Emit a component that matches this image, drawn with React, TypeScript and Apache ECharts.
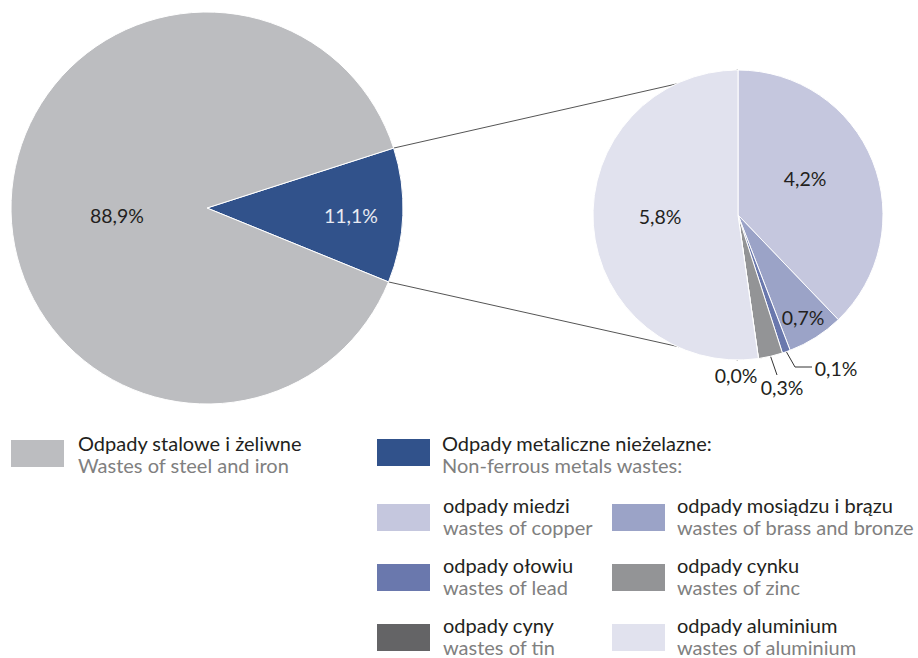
import React, { useEffect, useRef } from 'react';
import * as echarts from 'echarts';

// ---- data ----
const mainCategories = ['Odpady metaliczne nieżelazne', 'Odpady stalowe i żeliwne'];
const mainValues = [11.1, 88.9];
const mainLabels = ['11,1%', '88,9%'];

const subCategories = ['odpady miedzi', 'odpady mosiądzu i brązu', 'odpady ołowiu', 'odpady cynku', 'odpady cyny', 'odpady aluminium'];
const subCategoriesEn = ['wastes of copper', 'wastes of brass and bronze', 'wastes of lead', 'wastes of zinc', 'wastes of tin', 'wastes of aluminium'];
const subValues = [4.2, 0.7, 0.1, 0.3, 0.0, 5.8];
const subLabels = ['4,2%', '0,7%', '0,1%', '0,3%', '0,0%', '5,8%'];

const mainLegendPl = ['Odpady stalowe i żeliwne', 'Odpady metaliczne nieżelazne:'];
const mainLegendEn = ['Wastes of steel and iron', 'Non-ferrous metals wastes:'];

// ---- styles / layout ----
const FONT = 'Lato, "Open Sans", sans-serif';
const LEGEND_FS = 20;
const LABEL_FS = 19.5;
const mainColors = ['#31528b', '#bcbdc0'];
const subColors = ['#c5c7de', '#9ba3c7', '#6a78ad', '#939496', '#646466', '#e1e2ee'];
const MAIN_CENTER = [207, 208];
const MAIN_R = 196;
const MAIN_START = 17.8;
const SUB_CENTER = [738, 215];
const SUB_R = 145;
const mainLabelPos = [[351, 215], [117, 215]];
const subLabelPos = [[805, 178], [803, 317], [836, 368], [782, 387], [736, 375], [660, 216]];
const subLeaderEnds: (number[][] | null)[] = [null, null, [[795, 367], [812, 367]], [[777, 375]], null, null];

export default function App() {
  const ref = useRef<HTMLDivElement>(null);
  useEffect(() => {
    if (!ref.current) return;
    const chart = echarts.init(ref.current, null, { renderer: 'svg' });

    // slice geometry of the main pie for connector lines
    const navyFrac = mainValues[0] / mainValues.reduce((a, b) => a + b, 0);
    const a1 = (MAIN_START * Math.PI) / 180;
    const a2 = ((MAIN_START - navyFrac * 360) * Math.PI) / 180;
    const p1 = [MAIN_CENTER[0] + MAIN_R * Math.cos(a1), MAIN_CENTER[1] - MAIN_R * Math.sin(a1)];
    const p2 = [MAIN_CENTER[0] + MAIN_R * Math.cos(a2), MAIN_CENTER[1] - MAIN_R * Math.sin(a2)];

    // mid angles of sub pie slices (clockwise from top)
    const subTotal = subValues.reduce((a, b) => a + b, 0);
    const subMid: number[] = [];
    let acc = 0;
    subValues.forEach((v) => {
      subMid.push(((acc + v / 2) / subTotal) * 2 * Math.PI);
      acc += v;
    });

    const txt = (x: number, y: number, text: string, fill: string) => ({
      type: 'text',
      x,
      y,
      style: { text, fill, font: `${LEGEND_FS}px ${FONT}`, verticalAlign: 'middle', lineHeight: 20 },
    });

    const legendGraphics: any[] = [];
    const mainSq = [[11, 440], [377, 439]];
    const mainTx = [78, 442];
    const mainLegendColors = [mainColors[1], mainColors[0]];
    for (let i = 0; i < 2; i++) {
      legendGraphics.push({ type: 'rect', shape: { x: mainSq[i][0], y: mainSq[i][1], width: 53, height: 27 }, style: { fill: mainLegendColors[i] } });
      legendGraphics.push(txt(mainTx[i], 443, mainLegendPl[i], '#231f20'));
      legendGraphics.push(txt(mainTx[i], 465, mainLegendEn[i], '#808080'));
    }
    const colSq = [377, 612];
    const colTx = [443, 677];
    const rowTop = [504, 564, 624];
    subCategories.forEach((name, i) => {
      const c = i % 2;
      const r = Math.floor(i / 2);
      legendGraphics.push({ type: 'rect', shape: { x: colSq[c], y: rowTop[r], width: 53, height: 27 }, style: { fill: subColors[i] } });
      legendGraphics.push(txt(colTx[c], rowTop[r] + 1, name, '#231f20'));
      legendGraphics.push(txt(colTx[c], rowTop[r] + 23, subCategoriesEn[i], '#808080'));
    });

    const option: any = {
      animation: false,
      backgroundColor: '#ffffff',
      graphic: {
        elements: [
          { type: 'line', z: 0, shape: { x1: p1[0], y1: p1[1], x2: SUB_CENTER[0], y2: SUB_CENTER[1] - SUB_R }, style: { stroke: '#555555', lineWidth: 1 } },
          { type: 'line', z: 0, shape: { x1: p2[0], y1: p2[1], x2: SUB_CENTER[0], y2: SUB_CENTER[1] + SUB_R }, style: { stroke: '#555555', lineWidth: 1 } },
          ...legendGraphics,
        ],
      },
      series: [
        {
          type: 'pie',
          z: 2,
          center: MAIN_CENTER,
          radius: MAIN_R,
          startAngle: MAIN_START,
          clockwise: true,
          avoidLabelOverlap: false,
          itemStyle: { borderColor: '#ffffff', borderWidth: 1 },
          emphasis: { disabled: true },
          label: { show: true, position: 'inside', fontFamily: FONT, fontSize: LABEL_FS },
          labelLine: { show: false },
          labelLayout: (p: any) => ({ x: mainLabelPos[p.dataIndex][0], y: mainLabelPos[p.dataIndex][1], align: 'center', verticalAlign: 'middle' }),
          data: mainCategories.map((n, i) => ({
            name: n,
            value: mainValues[i],
            itemStyle: { color: mainColors[i] },
            label: { formatter: mainLabels[i], color: i === 0 ? '#e8eaf2' : '#231f20' },
          })),
        },
        {
          type: 'pie',
          z: 2,
          center: SUB_CENTER,
          radius: SUB_R,
          startAngle: 90,
          clockwise: true,
          minAngle: 0,
          avoidLabelOverlap: false,
          itemStyle: { borderColor: '#ffffff', borderWidth: 1 },
          emphasis: { disabled: true },
          label: { show: true, position: 'outside', fontFamily: FONT, fontSize: LABEL_FS, color: '#231f20' },
          labelLine: { show: false, lineStyle: { color: '#333333', width: 1 } },
          labelLayout: (p: any) => {
            const i = p.dataIndex;
            const res: any = { x: subLabelPos[i][0], y: subLabelPos[i][1], align: 'center', verticalAlign: 'middle' };
            const ends = subLeaderEnds[i];
            if (ends) {
              const start = [SUB_CENTER[0] + SUB_R * Math.sin(subMid[i]), SUB_CENTER[1] - SUB_R * Math.cos(subMid[i])];
              res.labelLinePoints = [start, ...ends];
            }
            return res;
          },
          data: subCategories.map((n, i) => ({
            name: n,
            value: subValues[i],
            itemStyle: { color: subColors[i] },
            label: { formatter: subLabels[i] },
            labelLine: { show: subLeaderEnds[i] !== null },
          })),
        },
      ],
    };
    chart.setOption(option);
    return () => chart.dispose();
  }, []);
  return <div ref={ref} style={{ position: 'fixed', left: 0, top: 0, width: 918, height: 658 }} />;
}
